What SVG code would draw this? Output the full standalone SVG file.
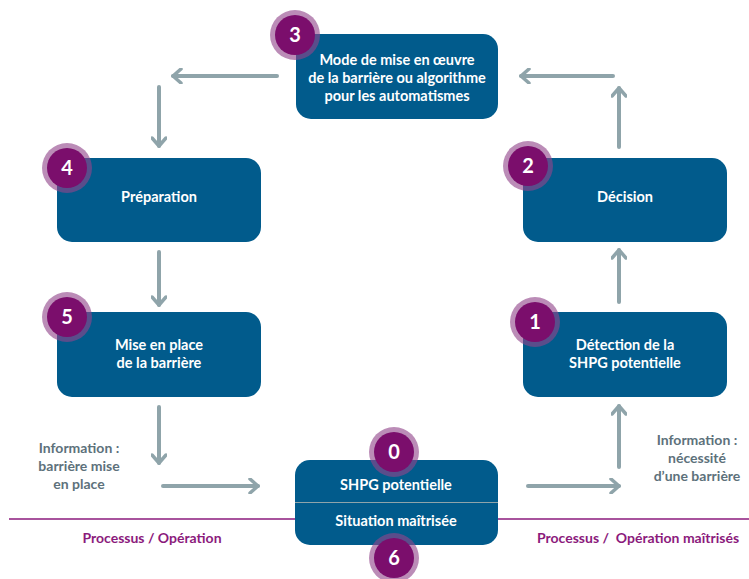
<svg xmlns="http://www.w3.org/2000/svg" width="749" height="579" viewBox="0 0 749 579">
  <defs>
    <marker id="chev" viewBox="0 0 12 16" refX="10" refY="8" markerWidth="12" markerHeight="16" markerUnits="userSpaceOnUse" orient="auto">
      <path d="M2,1 L10,8 L2,15" fill="none" stroke="#8fa4aa" stroke-width="3.5" stroke-linecap="round" stroke-linejoin="round"/>
    </marker>
    <g id="badge">
      <circle r="25" fill="#91468a" fill-opacity="0.62"/>
      <circle r="20" fill="#7b0e6c"/>
    </g>
  </defs>
  <style>
    .box { fill: #015b8c; }
    .lbl { font-family: Lato, "Open Sans", sans-serif; font-weight: bold; font-size: 14.5px; fill: #ffffff; text-anchor: middle; }
    .num { font-family: Lato, "Open Sans", sans-serif; font-weight: bold; font-size: 20px; fill: #ffffff; text-anchor: middle; }
    .info { font-family: Lato, "Open Sans", sans-serif; font-weight: bold; font-size: 14px; fill: #5d717b; text-anchor: middle; }
    .proc { font-family: Lato, "Open Sans", sans-serif; font-weight: bold; font-size: 14px; fill: #8b1a7c; text-anchor: middle; }
    .arr { fill: none; stroke: #8fa4aa; stroke-width: 4; stroke-linecap: round; marker-end: url(#chev); }
  </style>

  <rect width="749" height="579" fill="#ffffff"/>

  <!-- baseline separating the two process halves -->
  <line x1="9" y1="519" x2="749" y2="519" stroke="#8b1a7c" stroke-width="1.5"/>

  <g id="connectors">
    <line class="arr" x1="277" y1="76" x2="173" y2="76"/>
    <line class="arr" x1="159" y1="87" x2="159" y2="146"/>
    <line class="arr" x1="159" y1="252" x2="159" y2="305"/>
    <line class="arr" x1="159" y1="407" x2="159" y2="463"/>
    <line class="arr" x1="163" y1="486" x2="258" y2="486"/>
    <line class="arr" x1="528" y1="486" x2="619" y2="486"/>
    <line class="arr" x1="619" y1="467" x2="619" y2="406"/>
    <line class="arr" x1="619" y1="302" x2="619" y2="250"/>
    <line class="arr" x1="619" y1="147" x2="619" y2="88"/>
    <line class="arr" x1="613" y1="76" x2="521" y2="76"/>
  </g>

  <g id="node-3">
    <rect class="box" x="296" y="34" width="202" height="85" rx="15"/>
    <text class="lbl" x="397" y="65">Mode de mise en œuvre</text>
    <text class="lbl" x="397" y="83">de la barrière ou algorithme</text>
    <text class="lbl" x="397" y="101">pour les automatismes</text>
    <use href="#badge" x="295" y="35"/>
    <text class="num" x="295" y="42">3</text>
  </g>

  <g id="node-4">
    <rect class="box" x="57" y="158" width="204" height="84" rx="15"/>
    <text class="lbl" x="159" y="202">Préparation</text>
    <use href="#badge" x="67" y="168"/>
    <text class="num" x="67" y="175">4</text>
  </g>

  <g id="node-5">
    <rect class="box" x="57" y="312" width="204" height="85" rx="15"/>
    <text class="lbl" x="159" y="350">Mise en place</text>
    <text class="lbl" x="159" y="368">de la barrière</text>
    <use href="#badge" x="67" y="317"/>
    <text class="num" x="67" y="324">5</text>
  </g>

  <g id="node-2">
    <rect class="box" x="523" y="158" width="204" height="84" rx="15"/>
    <text class="lbl" x="625" y="202">Décision</text>
    <use href="#badge" x="528" y="166"/>
    <text class="num" x="528" y="173">2</text>
  </g>

  <g id="node-1">
    <rect class="box" x="523" y="312" width="204" height="85" rx="15"/>
    <text class="lbl" x="625" y="350">Détection de la</text>
    <text class="lbl" x="625" y="368">SHPG potentielle</text>
    <use href="#badge" x="535" y="322"/>
    <text class="num" x="535" y="329">1</text>
  </g>

  <g id="node-0-6">
    <rect class="box" x="295" y="460" width="203" height="85" rx="15"/>
    <line x1="295" y1="502.5" x2="498" y2="502.5" stroke="#8fa4aa" stroke-width="1"/>
    <text class="lbl" x="396" y="490">SHPG potentielle</text>
    <text class="lbl" x="396" y="526">Situation maîtrisée</text>
    <use href="#badge" x="394" y="452"/>
    <text class="num" x="394" y="459">0</text>
    <use href="#badge" x="394" y="558"/>
    <text class="num" x="394" y="565">6</text>
  </g>

  <g id="info-left">
    <text class="info" x="79" y="453">Information :</text>
    <text class="info" x="79" y="471">barrière mise</text>
    <text class="info" x="79" y="489">en place</text>
  </g>
  <g id="info-right">
    <text class="info" x="697" y="445">Information :</text>
    <text class="info" x="697" y="463">nécessité</text>
    <text class="info" x="697" y="481">d’une barrière</text>
  </g>

  <text class="proc" x="152" y="543">Processus / Opération</text>
  <text class="proc" x="638" y="543" xml:space="preserve">Processus /  Opération maîtrisés</text>
</svg>
